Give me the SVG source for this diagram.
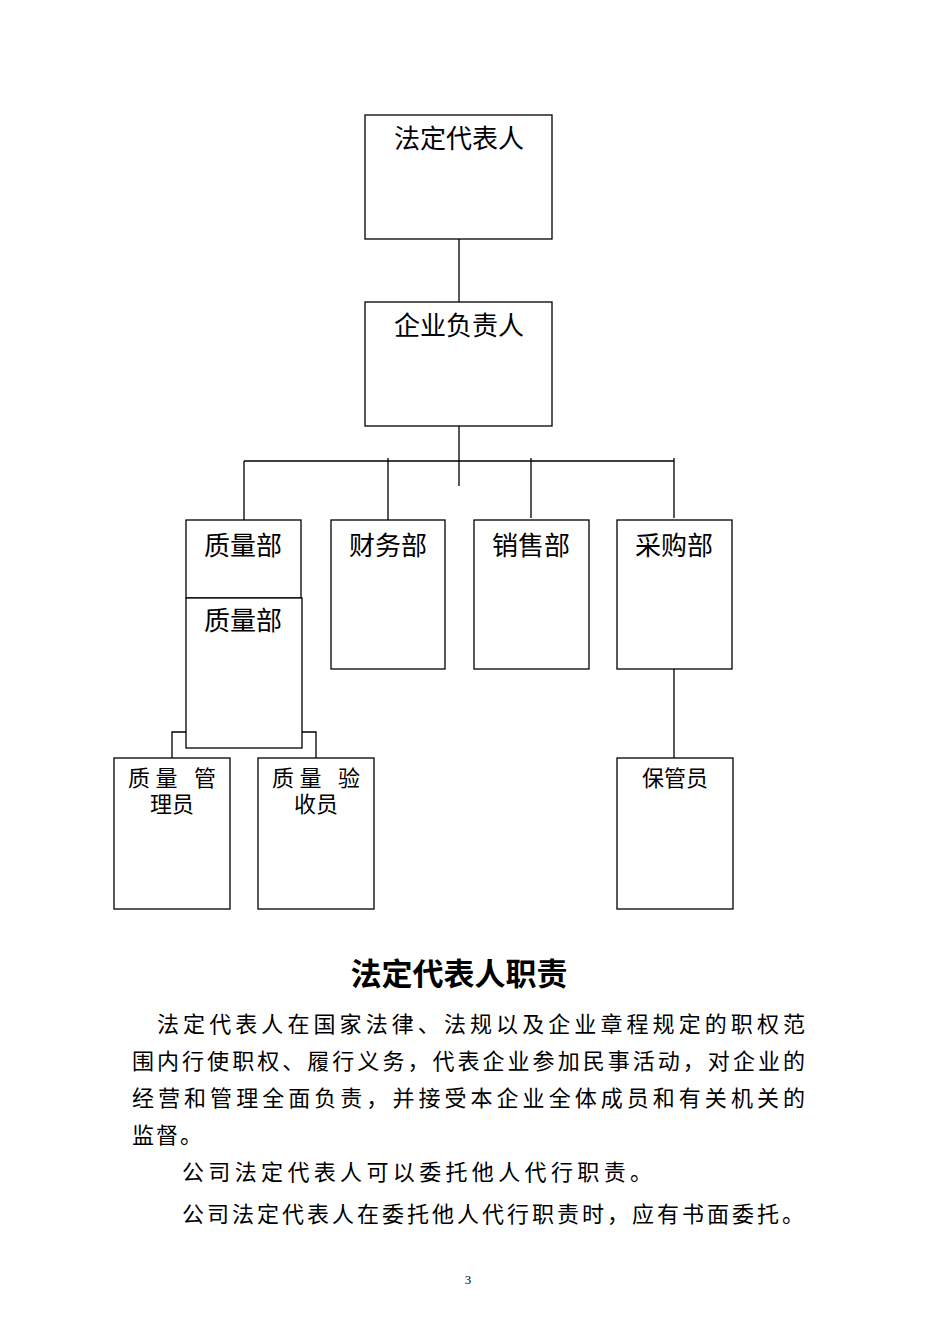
<svg xmlns="http://www.w3.org/2000/svg" width="950" height="1344" viewBox="0 0 950 1344">
<style>
.b{fill:#fff;stroke:#000;stroke-width:1.3}
.t{font-family:"Liberation Serif","Noto Sans CJK SC",serif;font-size:26px;fill:#000;text-anchor:middle}
.s{font-family:"Liberation Serif","Noto Sans CJK SC",serif;font-size:22px;fill:#000;text-anchor:middle}
.p{font-family:"Liberation Serif","Noto Sans CJK SC",serif;font-size:22px;fill:#000}
.c{fill:none;stroke:#000;stroke-width:1.3}
</style>
<rect width="950" height="1344" fill="#fff"/>
<g id="connectors">
<path class="c" d="M459 239V302M459 426V486M244 461H674M244 461V520M388 458V520M531 458V518M674 458V518M674 669V758M186 732H172V758M302 732H316V758"/>
</g>
<g id="n1"><rect class="b" x="365" y="115" width="187" height="124"/><text class="t" x="459" y="148">法定代表人</text></g>
<g id="n2"><rect class="b" x="365" y="302" width="187" height="124"/><text class="t" x="459" y="335">企业负责人</text></g>
<g id="n3"><rect class="b" x="186" y="520" width="115" height="78"/><text class="t" x="243" y="555">质量部</text></g>
<g id="n4"><rect class="b" x="186" y="598" width="116" height="150"/><text class="t" x="243" y="630">质量部</text></g>
<g id="n5"><rect class="b" x="331" y="520" width="114" height="149"/><text class="t" x="388" y="555">财务部</text></g>
<g id="n6"><rect class="b" x="474" y="520" width="115" height="149"/><text class="t" x="531" y="555">销售部</text></g>
<g id="n7"><rect class="b" x="617" y="520" width="115" height="149"/><text class="t" x="674" y="555">采购部</text></g>
<g id="n8"><rect class="b" x="114" y="758" width="116" height="151"/><text class="s" x="172" y="786" textLength="88">质量 管</text><text class="s" x="172" y="812">理员</text></g>
<g id="n9"><rect class="b" x="258" y="758" width="116" height="151"/><text class="s" x="316" y="786" textLength="88">质量 验</text><text class="s" x="316" y="812">收员</text></g>
<g id="n10"><rect class="b" x="617" y="758" width="116" height="151"/><text class="s" x="675" y="786">保管员</text></g>
<text x="459" y="985" font-family="Liberation Serif,Noto Sans CJK SC,serif" font-size="31" font-weight="bold" text-anchor="middle">法定代表人职责</text>
<text class="p" x="157" y="1032" textLength="648" lengthAdjust="spacing">法定代表人在国家法律、法规以及企业章程规定的职权范</text>
<text class="p" x="132" y="1069" textLength="673" lengthAdjust="spacing">围内行使职权、履行义务，代表企业参加民事活动，对企业的</text>
<text class="p" x="132" y="1106" textLength="673" lengthAdjust="spacing">经营和管理全面负责，并接受本企业全体成员和有关机关的</text>
<text class="p" x="132" y="1143" textLength="70" lengthAdjust="spacing">监督。</text>
<text class="p" x="182" y="1180" textLength="470" lengthAdjust="spacing">公司法定代表人可以委托他人代行职责。</text>
<text class="p" x="182" y="1222" textLength="622" lengthAdjust="spacing">公司法定代表人在委托他人代行职责时，应有书面委托。</text>
<text x="468" y="1284" font-family="Liberation Serif,serif" font-size="13" text-anchor="middle">3</text>
</svg>
